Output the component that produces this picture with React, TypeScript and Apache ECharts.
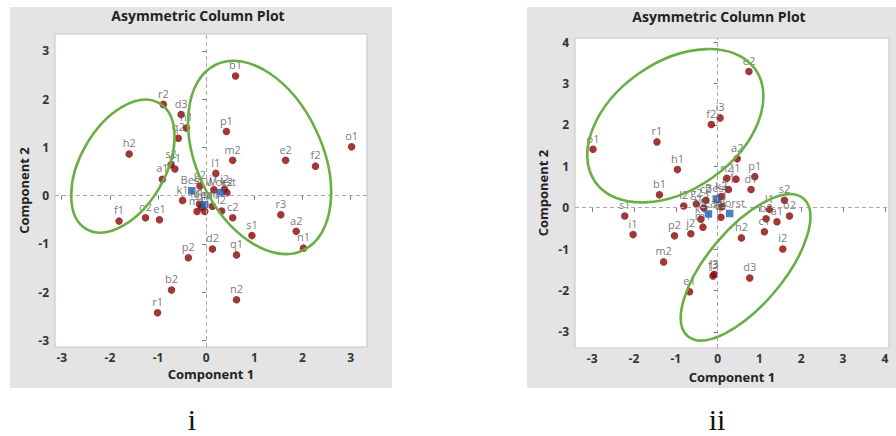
import React, { useEffect, useRef } from "react";
import * as echarts from "echarts";

// ---------- Panel i ----------
const rowLabelsI = ["b1","r2","d3","h1","q2","p1","h2","m2","e2","f2","o1","s2","g1","a1","l1","f1","o2","e1","k1","c2","r3","a2","n1","s1","d2","q1","p2","b2","n2","r1","g2","j1","i2","k2","m1","c1","j2","d1","l2","i1"];
const rowXI = [0.61,-0.89,-0.52,-0.41,-0.58,0.42,-1.60,0.55,1.65,2.27,3.02,-0.73,-0.65,-0.91,0.20,-1.81,-1.26,-0.97,-0.49,0.55,1.55,1.87,2.02,0.95,0.13,0.63,-0.37,-0.72,0.63,-1.01,-0.13,0.16,0.38,0.43,-0.19,-0.09,-0.03,0.13,0.32,-0.14];
const rowYI = [2.48,1.89,1.68,1.40,1.19,1.33,0.86,0.73,0.73,0.61,1.01,0.64,0.55,0.34,0.46,-0.53,-0.46,-0.50,-0.10,-0.46,-0.40,-0.74,-1.09,-0.83,-1.11,-1.23,-1.29,-1.96,-2.16,-2.43,0.20,0.12,0.13,0.06,-0.33,-0.24,-0.33,-0.22,-0.32,-0.18];
const colLabelsI = ["Best","Mean","Worst"];
const colXI = [-0.30,-0.03,0.30];
const colYI = [0.10,-0.19,0.06];
const ellCxI = [-1.73, 1.11];
const ellCyI = [0.61, 0.79];
const ellAI = [1.51, 2.13];
const ellBI = [0.88, 1.30];
const ellAngI = [60, -65];
const ticksXI = [-3,-2,-1,0,1,2,3];
const ticksYI = [-3,-2,-1,0,1,2,3];
const rangeXI = [-3.14, 3.34];
const rangeYI = [-3.14, 3.35];

// ---------- Panel ii ----------
const rowLabelsII = ["e2","i3","f2","o1","r1","h1","a2","n2","j1","p1","d1","b1","s1","i1","p2","j2","m2","e1","f3","j3","d3","h2","c1","b2","l1","a1","s2","o2","i2","l2","g2","c2","r2","k1","m1","q1","g1","k2","n1"];
const rowXII = [0.75,0.06,-0.15,-2.98,-1.45,-0.96,0.47,0.22,0.44,0.89,0.80,-1.39,-2.22,-2.02,-1.03,-0.64,-1.29,-0.67,-0.11,-0.08,0.77,0.57,1.12,1.16,1.24,1.42,1.60,1.72,1.56,-0.81,-0.51,-0.28,-0.33,-0.40,-0.35,0.08,0.10,0.09,0.26];
const rowYII = [3.29,2.17,2.01,1.41,1.59,0.92,1.18,0.71,0.69,0.75,0.44,0.31,-0.20,-0.65,-0.68,-0.63,-1.31,-2.03,-1.65,-1.61,-1.70,-0.73,-0.58,-0.27,-0.04,-0.34,0.18,-0.20,-1.00,0.04,0.09,0.18,-0.01,-0.28,-0.47,-0.23,0.02,0.27,0.44];
const colLabelsII = ["Best","Mean","Worst"];
const colXII = [-0.03,-0.22,0.29];
const colYII = [0.21,-0.15,-0.14];
const ellCxII = [-1.01, 0.67];
const ellCyII = [1.98, -1.44];
const ellAII = [2.34, 2.15];
const ellBII = [1.54, 0.92];
const ellAngII = [35, 50];
const ticksXII = [-3,-2,-1,0,1,2,3,4];
const ticksYII = [-3,-2,-1,0,1,2,3,4];
const rangeXII = [-3.41, 4.10];
const rangeYII = [-3.39, 4.10];

const FONT = '"Open Sans", "Noto Sans", sans-serif';
const RED = "#8a0505";
const BLUE = "#1f5fb5";
const GREEN = "#6aae45";

function zip3(xs: number[], ys: number[], ls: string[]) {
  return xs.map((x, i) => [x, ys[i], ls[i]]);
}
function ellData(cx: number[], cy: number[], a: number[], b: number[], ang: number[]) {
  return cx.map((x, i) => [x, cy[i], a[i], b[i], ang[i]]);
}

function xAxisFor(idx: number, range: number[], ticks: number[], nameGap: number) {
  return {
    type: "value",
    gridIndex: idx,
    min: range[0],
    max: range[1],
    name: "Component 1",
    nameLocation: "middle",
    nameGap,
    nameTextStyle: { fontFamily: FONT, fontWeight: "bold", fontSize: 13, color: "#222" },
    axisLine: { show: false },
    splitLine: { show: false },
    axisTick: { show: true, customValues: ticks, length: 4, lineStyle: { color: "#777" } },
    axisLabel: { customValues: ticks, fontFamily: FONT, fontWeight: "bold", fontSize: 12, color: "#333", margin: 4 },
  };
}
function yAxisFor(idx: number, range: number[], ticks: number[], nameGap: number) {
  return {
    type: "value",
    gridIndex: idx,
    min: range[0],
    max: range[1],
    name: "Component 2",
    nameLocation: "middle",
    nameGap,
    nameTextStyle: { fontFamily: FONT, fontWeight: "bold", fontSize: 13, color: "#222" },
    axisLine: { show: false },
    splitLine: { show: false },
    axisTick: { show: true, customValues: ticks, length: 4, lineStyle: { color: "#777" } },
    axisLabel: { customValues: ticks, fontFamily: FONT, fontWeight: "bold", fontSize: 12, color: "#333", margin: 6 },
  };
}

function seriesFor(idx: number, rows: any[], cols: any[], ells: any[]) {
  const label = {
    show: true,
    position: "top",
    distance: 2,
    fontFamily: FONT,
    fontSize: 11,
    color: "#555",
    formatter: (p: any) => p.data[2],
  };
  return [
    {
      type: "custom",
      xAxisIndex: idx,
      yAxisIndex: idx,
      data: ells,
      silent: true,
      z: 5,
      encode: { x: 0, y: 1 },
      renderItem: (params: any, api: any) => {
        const c = api.coord([api.value(0), api.value(1)]);
        const rx = api.size([api.value(2), 0])[0];
        const ry = api.size([0, api.value(3)])[1];
        return {
          type: "ellipse",
          x: c[0],
          y: c[1],
          rotation: (api.value(4) * Math.PI) / 180,
          shape: { cx: 0, cy: 0, rx, ry },
          style: { fill: "none", stroke: GREEN, lineWidth: 2.6 },
        };
      },
    },
    {
      type: "scatter",
      xAxisIndex: idx,
      yAxisIndex: idx,
      data: rows,
      symbol: "circle",
      symbolSize: 7.5,
      itemStyle: { color: RED },
      label,
      z: 3,
      markLine: {
        silent: true,
        symbol: "none",
        label: { show: false },
        lineStyle: { type: [4, 3], color: "#a8a8a8", width: 1 },
        data: [{ xAxis: 0 }, { yAxis: 0 }],
      },
    },
    {
      type: "scatter",
      xAxisIndex: idx,
      yAxisIndex: idx,
      data: cols,
      symbol: "rect",
      symbolSize: 7.5,
      itemStyle: { color: BLUE },
      label,
      z: 4,
    },
  ];
}

export default function App() {
  const ref = useRef<HTMLDivElement>(null);
  useEffect(() => {
    if (!ref.current) return;
    const chart = echarts.init(ref.current, null, { renderer: "svg" });
    const option: any = {
      animation: false,
      backgroundColor: "transparent",
      grid: [
        { left: 55, top: 34, width: 312, height: 313, show: true, backgroundColor: "#fff", borderColor: "#c4c4c4", borderWidth: 1 },
        { left: 575, top: 38, width: 314, height: 310, show: true, backgroundColor: "#fff", borderColor: "#c4c4c4", borderWidth: 1 },
      ],
      xAxis: [xAxisFor(0, rangeXI, ticksXI, 20), xAxisFor(1, rangeXII, ticksXII, 22)],
      yAxis: [yAxisFor(0, rangeYI, ticksYI, 25), yAxisFor(1, rangeYII, ticksYII, 26)],
      series: [
        ...seriesFor(0, zip3(rowXI, rowYI, rowLabelsI), zip3(colXI, colYI, colLabelsI), ellData(ellCxI, ellCyI, ellAI, ellBI, ellAngI)),
        ...seriesFor(1, zip3(rowXII, rowYII, rowLabelsII), zip3(colXII, colYII, colLabelsII), ellData(ellCxII, ellCyII, ellAII, ellBII, ellAngII)),
      ],
      graphic: [
        { type: "text", x: 198, y: 15, style: { text: "Asymmetric Column Plot", align: "center", verticalAlign: "middle", fontFamily: FONT, fontWeight: "bold", fontSize: 14, fill: "#222" } },
        { type: "text", x: 719, y: 16, style: { text: "Asymmetric Column Plot", align: "center", verticalAlign: "middle", fontFamily: FONT, fontWeight: "bold", fontSize: 14, fill: "#222" } },
        { type: "text", x: 192, y: 419, style: { text: "i", align: "center", verticalAlign: "middle", fontFamily: '"Liberation Serif", "DejaVu Serif", serif', fontSize: 30, fill: "#111" } },
        { type: "text", x: 717, y: 419, style: { text: "ii", align: "center", verticalAlign: "middle", fontFamily: '"Liberation Serif", "DejaVu Serif", serif', fontSize: 30, fill: "#111" } },
      ],
    };
    chart.setOption(option);
    return () => chart.dispose();
  }, []);
  return (
    <div style={{ position: "absolute", left: 0, top: 0, width: 896, height: 436, background: "#fff" }}>
      <div style={{ position: "absolute", left: 10, top: 7, width: 382, height: 381, background: "#e4e4e4" }} />
      <div style={{ position: "absolute", left: 527, top: 7, width: 369, height: 381, background: "#e4e4e4" }} />
      <div ref={ref} style={{ position: "absolute", left: 0, top: 0, width: 896, height: 436 }} />
    </div>
  );
}
